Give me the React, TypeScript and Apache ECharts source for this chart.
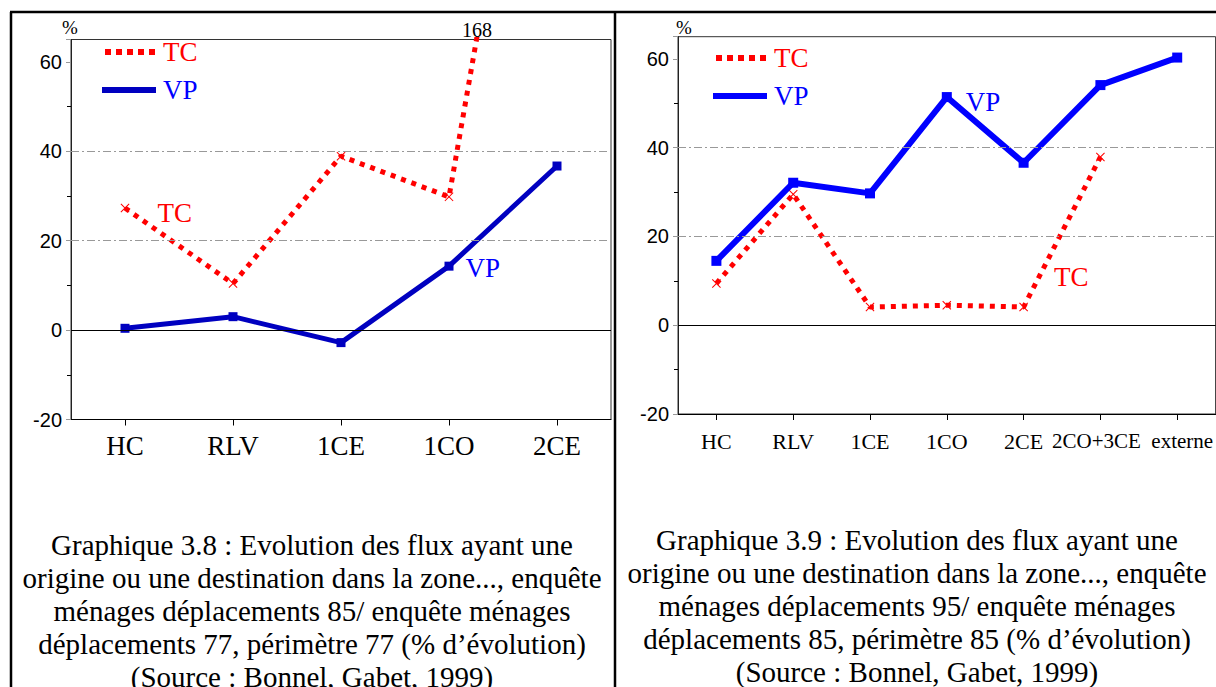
import { useEffect, useRef } from "react";
import * as echarts from "echarts";

const catsLeft = ["HC", "RLV", "1CE", "1CO", "2CE"];
const tcLeft = [27.3, 10.4, 38.9, 29.8, 168];
const vpLeft = [0.4, 3.0, -2.8, 14.3, 36.7];

const catsRight = ["HC", "RLV", "1CE", "1CO", "2CE", "2CO+3CE", "externe"];
const tcRight: (number | null)[] = [9.4, 29.5, 4.1, 4.5, 4.1, 37.9, null];
const vpRight = [14.5, 32.1, 29.7, 51.4, 36.6, 54.1, 60.3];

const yMin = -20;
const yMax = 65;
const yInterval = 20;
const gridValues = [20, 40];

const captionLeft = [
  "Graphique 3.8 : Evolution des flux ayant une",
  "origine ou une destination dans la zone..., enquête",
  "ménages déplacements 85/ enquête ménages",
  "déplacements 77, périmètre 77 (% d’évolution)",
  "(Source : Bonnel, Gabet, 1999)",
];
const captionRight = [
  "Graphique 3.9 : Evolution des flux ayant une",
  "origine ou une destination dans la zone..., enquête",
  "ménages déplacements 95/ enquête ménages",
  "déplacements 85, périmètre 85 (% d’évolution)",
  "(Source : Bonnel, Gabet, 1999)",
];

const SERIF = "'Liberation Serif', 'Times New Roman', serif";
const SANS = "'Liberation Sans', Arial, sans-serif";
const RED = "#ff0000";
const DARKBLUE = "#0000c0";
const BLUE = "#0000ff";
const XSYM =
  "path://M0,0.8L0.8,0L5,4.2L9.2,0L10,0.8L5.8,5L10,9.2L9.2,10L5,5.8L0.8,10L0,9.2L4.2,5Z";

function annotate(values: (number | null)[], idx: number, text: string, color: string, offset: number[]) {
  return values.map((v, i) =>
    i === idx
      ? {
          value: v,
          label: {
            show: true,
            formatter: text,
            position: "right",
            distance: 0,
            offset,
            color,
            fontSize: 27,
            fontFamily: SERIF,
          },
        }
      : v === null
      ? "-"
      : v
  );
}

function yAxisDef(gridIndex: number) {
  return {
    type: "value",
    gridIndex,
    min: yMin,
    max: yMax,
    interval: yInterval,
    axisLine: { show: true, lineStyle: { color: "#222", width: 1 } },
    axisTick: { show: true, length: 5, lineStyle: { color: "#999" } },
    minorTick: { show: true, splitNumber: 2, length: 4, lineStyle: { color: "#000" } },
    splitLine: { show: false },
    axisLabel: {
      showMaxLabel: false,
      color: "#000",
      fontSize: 20,
      fontFamily: SANS,
      margin: 9,
    },
  };
}

function xAxisDef(gridIndex: number, data: any[], fontSize: number, margin: number) {
  return {
    type: "category",
    gridIndex,
    data,
    boundaryGap: true,
    axisLine: { show: true, onZero: false, lineStyle: { color: "#000", width: 1 } },
    axisTick: { show: true, alignWithLabel: true, length: 6, lineStyle: { color: "#000" } },
    axisLabel: { color: "#000", fontSize, fontFamily: SERIF, margin, interval: 0 },
    splitLine: { show: false },
  };
}

function refLines() {
  return {
    silent: true,
    symbol: "none",
    label: { show: false },
    data: [
      ...gridValues.map((v) => ({
        yAxis: v,
        lineStyle: { color: "#999", width: 1, type: [8, 3, 2, 3] },
      })),
      { yAxis: 0, lineStyle: { color: "#000", width: 1, type: "solid" } },
    ],
  };
}

// the last two right-hand labels sit a little tighter and smaller
const rightAxisData = catsRight.map((c, i) =>
  i === catsRight.length - 2
    ? { value: c, textStyle: { fontSize: 21, padding: [0, 8, 0, 0] } }
    : i === catsRight.length - 1
    ? { value: c, textStyle: { fontSize: 21, padding: [0, 0, 0, 10] } }
    : c
);

export default function App() {
  const ref = useRef<HTMLDivElement>(null);

  useEffect(() => {
    document.body.style.margin = "0";
    if (!ref.current) return;
    const chart = echarts.init(ref.current, null, { renderer: "svg" });

    const legend = (x: number, yTc: number, yVp: number, vpColor: string) => [
      {
        type: "line",
        shape: { x1: x, y1: yTc, x2: x + 54, y2: yTc },
        style: { stroke: RED, lineWidth: 6, lineDash: [6, 5] },
      },
      {
        type: "text",
        x: x + 58,
        y: yTc,
        style: { text: "TC", fill: RED, font: `27px ${SERIF}`, textAlign: "left", textVerticalAlign: "middle" },
      },
      {
        type: "line",
        shape: { x1: x - 3, y1: yVp, x2: x + 51, y2: yVp },
        style: { stroke: vpColor, lineWidth: 6 },
      },
      {
        type: "text",
        x: x + 58,
        y: yVp,
        style: { text: "VP", fill: BLUE, font: `27px ${SERIF}`, textAlign: "left", textVerticalAlign: "middle" },
      },
    ];

    chart.setOption({
      animation: false,
      backgroundColor: "#fff",
      grid: [
        { left: 71, top: 39.5, width: 540, height: 380, show: true, borderColor: "#333", borderWidth: 1, backgroundColor: "transparent" },
        { left: 678, top: 36.7, width: 539, height: 377.3, show: true, borderColor: "#333", borderWidth: 1, backgroundColor: "transparent" },
      ],
      xAxis: [xAxisDef(0, catsLeft, 27, 13), xAxisDef(1, rightAxisData, 22, 16)],
      yAxis: [yAxisDef(0), yAxisDef(1)],
      series: [
        {
          name: "TC",
          type: "line",
          xAxisIndex: 0,
          yAxisIndex: 0,
          data: annotate(tcLeft, 0, "TC", RED, [28, 5]),
          symbol: XSYM,
          symbolSize: 9,
          itemStyle: { color: RED },
          lineStyle: { color: RED, width: 5, type: [5, 6] },
          clip: true,
          z: 3,
        },
        {
          name: "VP",
          type: "line",
          xAxisIndex: 0,
          yAxisIndex: 0,
          data: annotate(vpLeft, 3, "VP", BLUE, [12, 2]),
          symbol: "rect",
          symbolSize: 9,
          itemStyle: { color: DARKBLUE },
          lineStyle: { color: DARKBLUE, width: 5 },
          markLine: refLines(),
          z: 4,
        },
        {
          name: "TC",
          type: "line",
          xAxisIndex: 1,
          yAxisIndex: 1,
          data: annotate(tcRight, 4, "TC", RED, [26, -30]),
          symbol: XSYM,
          symbolSize: 9,
          connectNulls: false,
          itemStyle: { color: RED },
          lineStyle: { color: RED, width: 5, type: [5, 6] },
          z: 3,
        },
        {
          name: "VP",
          type: "line",
          xAxisIndex: 1,
          yAxisIndex: 1,
          data: annotate(vpRight, 3, "VP", BLUE, [14, 5]),
          symbol: "rect",
          symbolSize: 10,
          itemStyle: { color: BLUE },
          lineStyle: { color: BLUE, width: 6 },
          markLine: refLines(),
          z: 4,
        },
      ],
      graphic: [
        // frame
        { type: "line", shape: { x1: 10, y1: 12, x2: 1216, y2: 12 }, style: { stroke: "#000", lineWidth: 2.5 } },
        { type: "line", shape: { x1: 11, y1: 12, x2: 11, y2: 687 }, style: { stroke: "#000", lineWidth: 2.5 } },
        { type: "line", shape: { x1: 615, y1: 12, x2: 615, y2: 687 }, style: { stroke: "#000", lineWidth: 2.5 } },
        // axis units
        { type: "text", x: 70, y: 27, style: { text: "%", fill: "#000", font: `19px ${SERIF}`, textAlign: "center", textVerticalAlign: "middle" } },
        { type: "text", x: 684, y: 27, style: { text: "%", fill: "#000", font: `19px ${SERIF}`, textAlign: "center", textVerticalAlign: "middle" } },
        // off-scale value
        { type: "text", x: 477, y: 30, style: { text: String(tcLeft[4]), fill: "#000", font: `20px ${SERIF}`, textAlign: "center", textVerticalAlign: "middle" } },
        ...legend(105, 52, 90, DARKBLUE),
        ...legend(716, 58, 96, BLUE),
        // captions
        {
          type: "text",
          x: 312,
          y: 528,
          style: { text: captionLeft.join("\n"), fill: "#000", font: `29px ${SERIF}`, lineHeight: 33, textAlign: "center", textVerticalAlign: "top" },
        },
        {
          type: "text",
          x: 917,
          y: 523,
          style: { text: captionRight.join("\n"), fill: "#000", font: `29px ${SERIF}`, lineHeight: 33, textAlign: "center", textVerticalAlign: "top" },
        },
      ],
    });

    return () => chart.dispose();
  }, []);

  return <div ref={ref} style={{ width: 1216, height: 687 }} />;
}
